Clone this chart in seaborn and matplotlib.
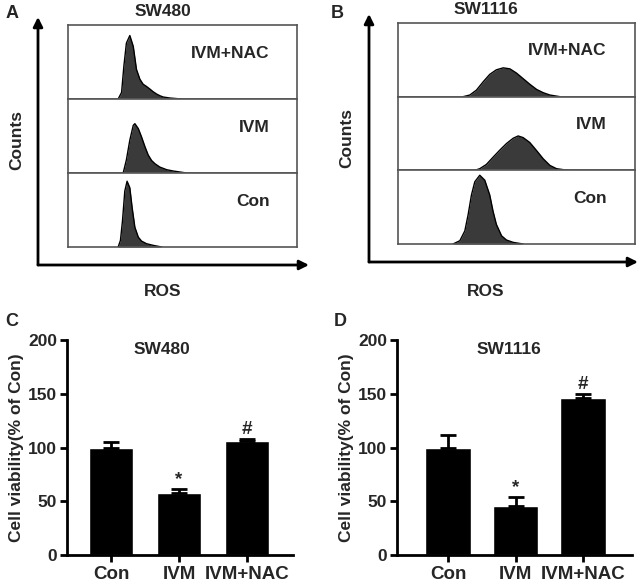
import numpy as np
import pandas as pd
import seaborn as sb
import matplotlib.pyplot as plt

sb.set_style('white')
plt.rcParams['font.family'] = ['Liberation Sans', 'DejaVu Sans']
plt.rcParams['font.weight'] = 'bold'

# curvas de citometria (canal ROS 0-100, contagens)
a_nac_x = [21.9, 23.4, 24.4, 25.5, 27.0, 28.5, 29.9, 31.4, 32.8, 34.3, 35.8, 37.2, 38.7, 40.1, 41.6, 44.5, 49.6]
a_nac_y = [0, 20, 100, 170, 193, 160, 90, 60, 45, 38, 30, 22, 15, 10, 6, 3, 0]
a_ivm_x = [24.1, 25.5, 27.0, 28.5, 29.2, 30.7, 32.1, 33.6, 35.0, 36.5, 38.0, 40.1, 43.1, 46.0, 48.9, 51.8]
a_ivm_y = [0, 40, 100, 145, 150, 135, 110, 80, 55, 38, 28, 18, 10, 6, 3, 0]
a_con_x = [21.9, 22.9, 23.8, 24.8, 25.8, 27.0, 28.0, 29.2, 30.7, 32.1, 34.3, 37.2, 40.9]
a_con_y = [0, 20, 80, 170, 200, 180, 120, 60, 30, 18, 10, 5, 0]

b_nac_x = [27.5, 30.3, 33.1, 35.9, 38.7, 41.5, 44.4, 47.2, 50.0, 52.8, 55.6, 58.5, 61.3, 64.1, 68.3]
b_nac_y = [0, 5, 20, 45, 68, 82, 88, 85, 72, 55, 38, 22, 12, 5, 0]
b_ivm_x = [32.4, 34.5, 37.3, 40.1, 43.0, 45.8, 48.6, 50.7, 52.8, 55.6, 58.5, 61.3, 64.1, 66.9, 71.8]
b_ivm_y = [0, 5, 18, 40, 62, 82, 98, 105, 100, 85, 60, 35, 15, 5, 0]
b_con_x = [23.2, 26.1, 28.2, 29.6, 31.0, 32.4, 34.5, 36.6, 38.7, 40.1, 41.5, 43.7, 45.8, 48.6, 52.8]
b_con_y = [0, 10, 40, 90, 150, 190, 210, 195, 150, 100, 60, 25, 12, 5, 0]

# viabilidade celular
grupos = ['Con', 'IVM', 'IVM+NAC']
sw480_media = [100, 58, 106]
sw480_erro = [5, 3, 2]
sw1116_media = [100, 46, 146]
sw1116_erro = [12, 8, 4]
marcas = ['', '*', '#']

fig = plt.figure(figsize=(6.4, 5.86), dpi=100)
W, H = 640, 586

def fx(px):
    return px / W

def fy(py):
    return 1 - py / H

def seta(x0, y0, x1, y1):
    fig.add_artist(plt.Annotation('', xy=(fx(x1), fy(y1)), xytext=(fx(x0), fy(y0)),
                                  xycoords='figure fraction', textcoords='figure fraction',
                                  arrowprops=dict(arrowstyle='-|>', lw=2, color='black',
                                                  mutation_scale=14, shrinkA=0, shrinkB=0)))

def histo(left, right, top, bottom, curvas, nomes):
    altura = (bottom - top) / 3
    for i, ((xs, ys), nome) in enumerate(zip(curvas, nomes)):
        ax = fig.add_axes([fx(left), fy(top + (i + 1) * altura), fx(right - left), altura / H])
        ax.fill_between(xs, ys, 0, color='#3a3a3a', lw=0)
        sb.lineplot(x=xs, y=ys, color='black', lw=1, ax=ax)
        ax.set_xlim(0, 100)
        ax.set_ylim(0, 225)
        ax.set_xticks([])
        ax.set_yticks([])
        for s in ax.spines.values():
            s.set_color('#555555')
            s.set_linewidth(1.2)
        ax.text(0.88, 0.62, nome, transform=ax.transAxes, ha='right', va='center',
                fontsize=12.5, fontweight='bold')

nomes = ['IVM+NAC', 'IVM', 'Con']
# Painel A
histo(68, 297, 25, 247, [(a_nac_x, a_nac_y), (a_ivm_x, a_ivm_y), (a_con_x, a_con_y)], nomes)
seta(38, 265, 38, 17)
seta(38, 265, 309, 265)
fig.text(fx(163), fy(12), 'SW480', ha='center', va='center', fontsize=12.5, fontweight='bold')
fig.text(fx(17), fy(140), 'Counts', ha='center', va='center', rotation=90, fontsize=12.5, fontweight='bold')
fig.text(fx(163), fy(292), 'ROS', ha='center', va='center', fontsize=12.5, fontweight='bold')
fig.text(fx(12), fy(13), 'A', ha='center', va='center', fontsize=13, fontweight='bold')

# Painel B
histo(398, 635, 23, 244, [(b_nac_x, b_nac_y), (b_ivm_x, b_ivm_y), (b_con_x, b_con_y)], nomes)
seta(369, 262, 369, 14)
seta(369, 262, 638, 262)
fig.text(fx(486), fy(10), 'SW1116', ha='center', va='center', fontsize=12.5, fontweight='bold')
fig.text(fx(347), fy(138), 'Counts', ha='center', va='center', rotation=90, fontsize=12.5, fontweight='bold')
fig.text(fx(486), fy(292), 'ROS', ha='center', va='center', fontsize=12.5, fontweight='bold')
fig.text(fx(337), fy(13), 'B', ha='center', va='center', fontsize=13, fontweight='bold')

def barras(left, right, xlim, largura, medias, erros, titulo, tx):
    ax = fig.add_axes([fx(left), fy(555), fx(right - left), (555 - 340) / H])
    df = pd.DataFrame({'grupo': grupos, 'valor': medias})
    sb.barplot(df, x='grupo', y='valor', color='black', width=largura, saturation=1, ax=ax)
    ax.errorbar(range(3), medias, yerr=[np.zeros(3), erros], fmt='none', ecolor='black',
                elinewidth=2, capsize=5.5, capthick=2)
    for i in range(3):
        ax.text(i, medias[i] + erros[i] + 1, marcas[i], ha='center', va='bottom',
                fontsize=13.5, fontweight='bold')
    ax.set_xlim(*xlim)
    ax.set_ylim(0, 200)
    ax.set_yticks([0, 50, 100, 150, 200])
    ax.set_xlabel('')
    ax.set_ylabel('Cell viability(% of Con)', fontsize=12.5, fontweight='bold', labelpad=3)
    ax.text(tx, 191, titulo, ha='center', va='center', fontsize=12.5, fontweight='bold')
    sb.despine(ax=ax)
    for s in ['left', 'bottom']:
        ax.spines[s].set_linewidth(2)
        ax.spines[s].set_color('black')
    ax.tick_params(axis='both', direction='out', length=5, width=2, bottom=True, left=True, color='black')
    ax.tick_params(axis='y', labelsize=12.5, pad=2)
    ax.tick_params(axis='x', labelsize=13.5, pad=3)
    for lab in ax.get_xticklabels() + ax.get_yticklabels():
        lab.set_fontweight('bold')
    return ax

barras(67, 293, (-0.647, 2.676), 0.66, sw480_media, sw480_erro, 'SW480', 0.75)
fig.text(fx(12), fy(321), 'C', ha='center', va='center', fontsize=13, fontweight='bold')
barras(397, 632, (-0.756, 2.726), 0.68, sw1116_media, sw1116_erro, 'SW1116', 0.9)
fig.text(fx(340), fy(321), 'D', ha='center', va='center', fontsize=13, fontweight='bold')

plt.savefig('out.png', dpi=100)
